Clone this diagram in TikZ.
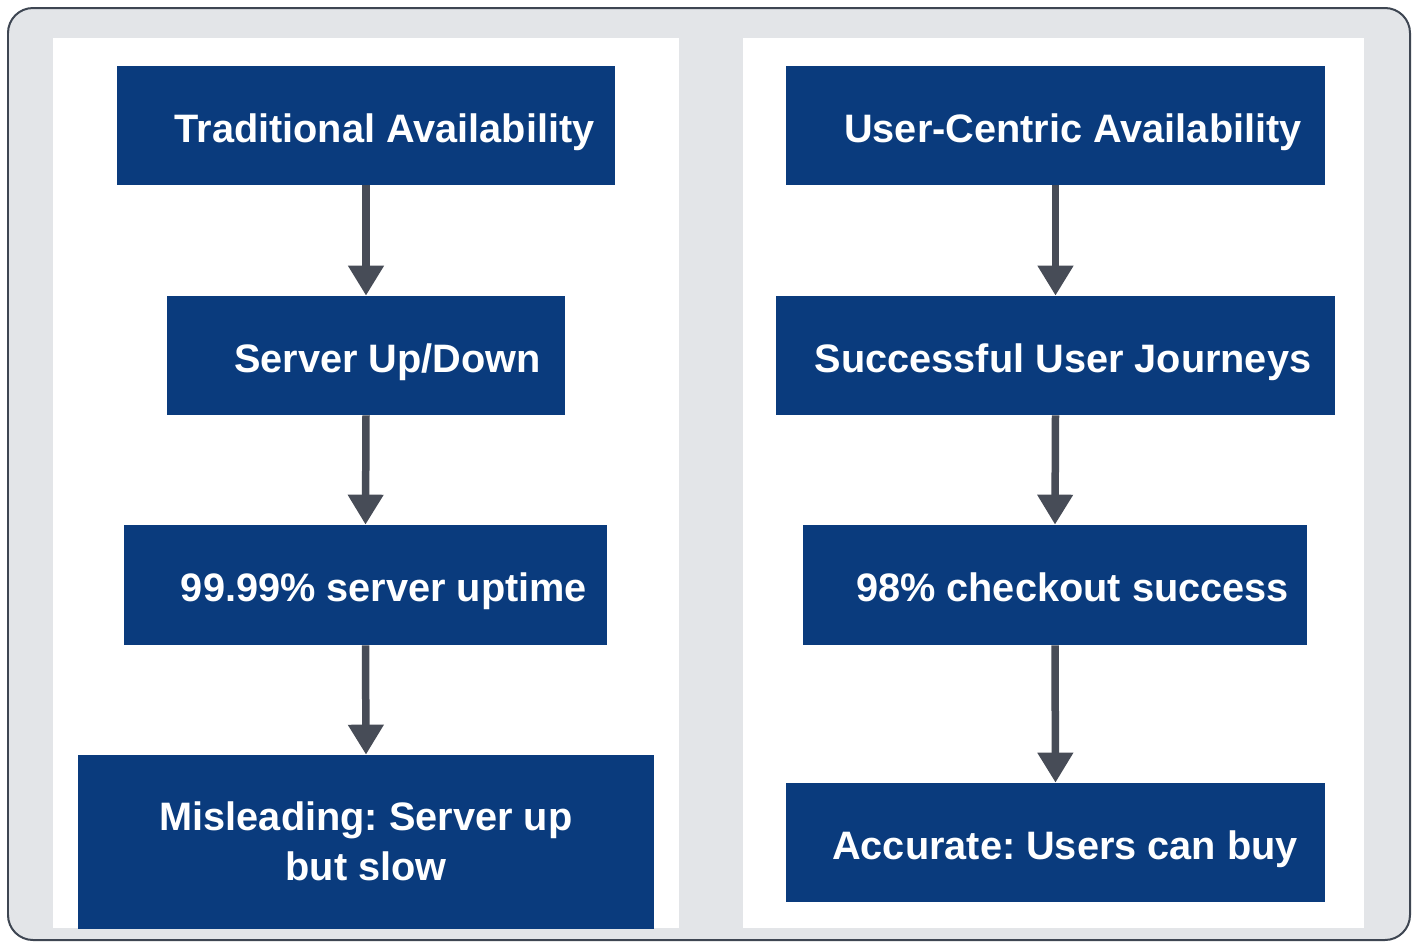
\documentclass[tikz,border=0pt]{standalone}
\usepackage{fontspec}
\setmainfont{Liberation Sans}
\usetikzlibrary{arrows.meta}
\frenchspacing
\definecolor{frameline}{HTML}{3E4652}
\definecolor{framefill}{HTML}{E3E5E8}
\definecolor{boxblue}{HTML}{0A3B7D}
\definecolor{arrowgray}{HTML}{474C57}
\tikzset{
  stagebox/.style={rectangle, fill=boxblue, inner sep=0pt, text=white,
    font=\fontsize{22.6}{28.4}\selectfont\bfseries,
    text height=0.66cm, text depth=0pt, align=center},
  flowarrow/.style={draw=arrowgray, line width=0.15cm,
    -{Triangle[width=0.68cm, length=0.6cm]}}
}
% shift text to the right inside its box
\newcommand{\shiftby}[1]{\hspace*{#1}}
\begin{document}
\begin{tikzpicture}[x=0.02cm, y=-0.02cm]
  \useasboundingbox (0,0) rectangle (1417,947);
  % outer frame and the two white panels
  \draw[fill=framefill, draw=frameline, line width=0.04cm, rounded corners=0.5cm]
    (8,8) rectangle (1410,940);
  \fill[white] (53,38) rectangle (679,928);
  \fill[white] (743,38) rectangle (1364,928);

  % left column
  \node[stagebox, minimum width=9.96cm, minimum height=2.38cm] (l1) at (366,125.5)
    {\shiftby{0.74cm}Traditional Availability};
  \node[stagebox, minimum width=7.96cm, minimum height=2.38cm] (l2) at (366,355.5)
    {\shiftby{0.86cm}Server Up/Down};
  \node[stagebox, minimum width=9.66cm, minimum height=2.4cm] (l3) at (365.5,585)
    {\shiftby{0.74cm}99.99\% server uptime};
  \node[stagebox, minimum width=11.52cm, minimum height=3.48cm, text height=1.52cm] (l4) at (366,842)
    {Misleading: Server up\\but slow};

  % right column
  \node[stagebox, minimum width=10.78cm, minimum height=2.38cm] (r1) at (1055.5,125.5)
    {\shiftby{0.7cm}User-Centric Availability};
  \node[stagebox, minimum width=11.18cm, minimum height=2.38cm] (r2) at (1055.5,355.5)
    {\shiftby{0.3cm}Successful User Journeys};
  \node[stagebox, minimum width=10.08cm, minimum height=2.4cm] (r3) at (1055,585)
    {\shiftby{0.7cm}98\% checkout success};
  \node[stagebox, minimum width=10.78cm, minimum height=2.38cm] (r4) at (1055.5,842.5)
    {\shiftby{0.38cm}Accurate: Users can buy};

  % connectors
  \draw[flowarrow] (l1.south) -- (l2.north);
  \draw[flowarrow] (l2.south) -- (l3.north);
  \draw[flowarrow] (l3.south) -- (l4.north);
  \draw[flowarrow] (r1.south) -- (r2.north);
  \draw[flowarrow] (r2.south) -- (r3.north);
  \draw[flowarrow] (r3.south) -- (r4.north);
\end{tikzpicture}
\end{document}
